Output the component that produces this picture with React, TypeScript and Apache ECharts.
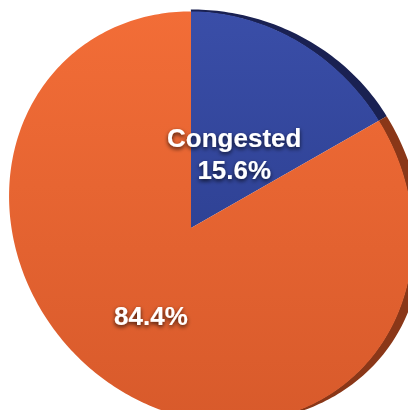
import React, { useEffect, useRef } from "react";
import * as echarts from "echarts";

// ---- data ----
const categories: string[] = ["Congested", "Not congested"];
const values: number[] = [15.6, 84.4];
const showName: boolean[] = [true, false];

// ---- look ----
const topColors: [string, string][] = [
  ["#3a4ea8", "#2f4295"],
  ["#f26d37", "#d85a2b"],
];
const rimColors: string[] = ["#1a2152", "#8a3718"];
const labelRadius: number[] = [0.42, 0.54];
const labelShift: number[][] = [[2, 0], [8, 2]];

// ---- perspective geometry of the tilted disc ----
const CX = 211, CY = 217, EA = 214, EB = 193, ROT = (50 * Math.PI) / 180;
const APEX = [191, 228];
const DEG = Math.PI / 180;

// visible side thickness of the disc as a function of angle (deg, clockwise from top)
const rimThickness = (deg: number): number => {
  if (deg < 0 || deg > 165) return 0;
  const s = (e0: number, e1: number, x: number) => {
    const t = Math.min(1, Math.max(0, (x - e0) / (e1 - e0)));
    return t * t * (3 - 2 * t);
  };
  return (2 + 7 * s(0, 55, deg)) * (1 - s(100, 165, deg));
};

type C = [number, number];
const cmul = (a: C, b: C): C => [a[0] * b[0] - a[1] * b[1], a[0] * b[1] + a[1] * b[0]];
const cdiv = (a: C, b: C): C => {
  const d = b[0] * b[0] + b[1] * b[1];
  return [(a[0] * b[0] + a[1] * b[1]) / d, (a[1] * b[0] - a[0] * b[1]) / d];
};
const cadd = (a: C, b: C): C => [a[0] + b[0], a[1] + b[1]];
const csub = (a: C, b: C): C => [a[0] - b[0], a[1] - b[1]];
const conj = (a: C): C => [a[0], -a[1]];

const toScreen = (k: C): C => {
  const u = k[0] * EA, v = k[1] * EB;
  return [CX + u * Math.cos(ROT) - v * Math.sin(ROT), CY + u * Math.sin(ROT) + v * Math.cos(ROT)];
};
const fromScreen = (x: number, y: number): C => {
  const dx = x - CX, dy = y - CY;
  const u = dx * Math.cos(ROT) + dy * Math.sin(ROT);
  const v = -dx * Math.sin(ROT) + dy * Math.cos(ROT);
  return [u / EA, v / EB];
};

const P = fromScreen(APEX[0], APEX[1]);
const pr2 = P[0] * P[0] + P[1] * P[1];
const A: C = [P[0] / (1 + Math.sqrt(1 - pr2)), P[1] / (1 + Math.sqrt(1 - pr2))];
const mob = (z: C): C => cdiv(cadd(z, A), cadd([1, 0], cmul(conj(A), z)));
const mobInv = (w: C): C => cdiv(csub(w, A), csub([1, 0], cmul(conj(A), w)));

// disc "top" direction: the image of angle 0 lies straight above the apex
const Z0: C = (() => {
  const q = fromScreen(APEX[0], APEX[1] - 1);
  let w: C = [q[0] - P[0], q[1] - P[1]];
  const l = Math.hypot(w[0], w[1]);
  w = [w[0] / l, w[1] / l];
  const pw = P[0] * w[0] + P[1] * w[1];
  const t = -pw + Math.sqrt(pw * pw - pr2 + 1);
  return mobInv([P[0] + t * w[0], P[1] + t * w[1]]);
})();

const discPoint = (theta: number, r: number): C => {
  const dir = cmul(Z0, [Math.cos(theta), Math.sin(theta)]);
  const k: C = [dir[0] * r, dir[1] * r];
  const s = 1 + Math.sqrt(Math.max(0, 1 - r * r));
  const z = mob([k[0] / s, k[1] / s]);
  const m = z[0] * z[0] + z[1] * z[1];
  return toScreen([(2 * z[0]) / (1 + m), (2 * z[1]) / (1 + m)]);
};

const total = values.reduce((s, v) => s + v, 0);
const cum: number[] = [0];
values.forEach((v, i) => cum.push(cum[i] + v));

const angleRange = (i: number) => [(cum[i] / total) * 360, (cum[i + 1] / total) * 360];

const slicePoints = (i: number) => {
  const [d0, d1] = angleRange(i);
  const n = Math.max(2, Math.ceil(d1 - d0));
  const pts: number[][] = [[APEX[0], APEX[1]]];
  for (let k = 0; k <= n; k++) {
    const p = discPoint((d0 + ((d1 - d0) * k) / n) * DEG, 1);
    pts.push([p[0], p[1]]);
  }
  return pts;
};

const rimPoints = (i: number) => {
  const [d0, d1] = angleRange(i);
  const lo = Math.max(d0, 0), hi = Math.min(d1, 165);
  if (hi <= lo) return null;
  const n = Math.max(2, Math.ceil(hi - lo));
  const inner: number[][] = [];
  const outer: number[][] = [];
  for (let k = 0; k <= n; k++) {
    const d = lo + ((hi - lo) * k) / n;
    const p = discPoint(d * DEG, 1);
    const nx = p[0] - CX, ny = p[1] - CY;
    const l = Math.hypot(nx, ny);
    const t = rimThickness(d);
    inner.push([p[0] - (nx / l) * 0.5, p[1] - (ny / l) * 0.5]);
    outer.push([p[0] + (nx / l) * t, p[1] + (ny / l) * t]);
  }
  return inner.concat(outer.reverse());
};

export default function App() {
  const ref = useRef<HTMLDivElement>(null);
  useEffect(() => {
    if (!ref.current) return;
    const chart = echarts.init(ref.current, null, { renderer: "svg" });
    const data = values.map((v, i) => ({ name: categories[i], value: [v, i] }));
    chart.setOption({
      animation: false,
      backgroundColor: "#ffffff",
      series: [
        {
          type: "custom",
          coordinateSystem: "none",
          z: 1,
          data,
          renderItem: (params: any) => {
            const i = params.dataIndex;
            const pts = rimPoints(i);
            if (!pts) return { type: "group", children: [] };
            return {
              type: "polygon",
              shape: { points: pts },
              style: { fill: rimColors[i] },
            };
          },
        },
        {
          type: "custom",
          coordinateSystem: "none",
          z: 2,
          data,
          renderItem: (params: any) => {
            const i = params.dataIndex;
            return {
              type: "polygon",
              shape: { points: slicePoints(i) },
              style: {
                fill: new echarts.graphic.LinearGradient(0, 0, 0, 1, [
                  { offset: 0, color: topColors[i][0] },
                  { offset: 1, color: topColors[i][1] },
                ]),
              },
            };
          },
        },
        {
          type: "custom",
          coordinateSystem: "none",
          z: 3,
          data,
          renderItem: (params: any, api: any) => {
            const i = params.dataIndex;
            const v = api.value(0);
            const mid = (((cum[i] + cum[i + 1]) / 2) / total) * Math.PI * 2;
            const pos = discPoint(mid, labelRadius[i]);
            const pct = ((v / total) * 100).toFixed(1) + "%";
            const text = showName[i] ? categories[i] + "\n" + pct : pct;
            return {
              type: "text",
              x: pos[0] + labelShift[i][0],
              y: pos[1] + labelShift[i][1],
              style: {
                text,
                fill: "#ffffff",
                fontFamily: "Liberation Sans, Arial, sans-serif",
                fontWeight: "bold",
                fontSize: 26,
                lineHeight: 32,
                align: "center",
                verticalAlign: "middle",
                textShadowColor: "rgba(0,0,0,0.75)",
                textShadowBlur: 4,
                textShadowOffsetX: 0,
                textShadowOffsetY: 2,
              },
            };
          },
        },
      ],
    });
    return () => chart.dispose();
  }, []);
  return (
    <div
      ref={ref}
      style={{ position: "fixed", left: 0, top: 0, width: 408, height: 410, background: "#fff" }}
    />
  );
}
